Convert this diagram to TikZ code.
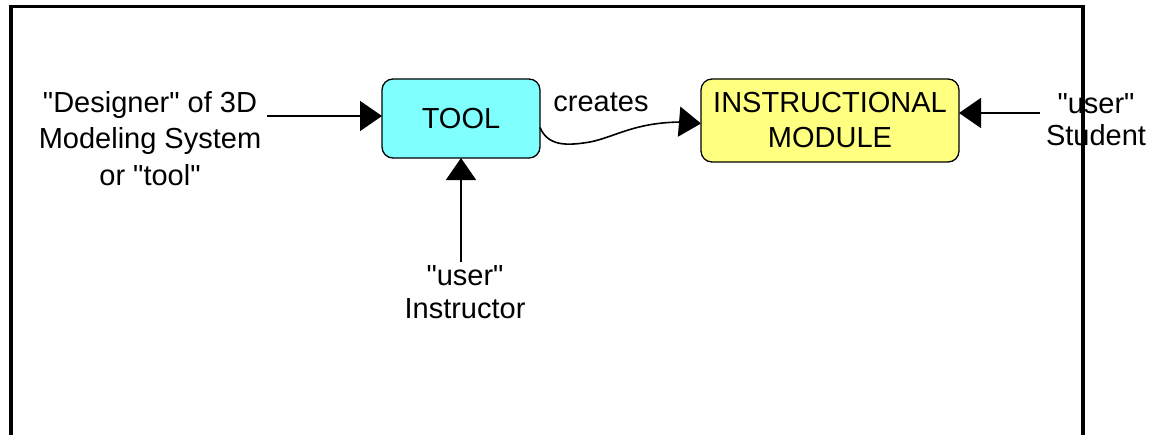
\documentclass[tikz,border=0pt]{standalone}
\usepackage{fontspec}
\setmainfont{Liberation Sans}
\usetikzlibrary{arrows.meta,calc}
\definecolor{toolcyan}{HTML}{80FFFF}
\definecolor{modyellow}{HTML}{FFFF80}
\newcommand{\qq}{\textquotedbl}
\begin{document}
\begin{tikzpicture}[x=1pt,y=-1pt,
  every node/.style={inner sep=0pt, outer sep=0pt, font=\fontsize{29}{36}\selectfont},
  boxnode/.style={draw=black, line width=1.3pt, rounded corners=11pt, align=center},
  lbl/.style={align=center, anchor=base},
  conn/.style={line width=1.6pt, -{Triangle[length=22pt,width=30pt]}},
  frame/.style={line width=3.5pt}
]
\useasboundingbox (0,0) rectangle (1155,434);
% frame
\draw[frame] (11,440) -- (11,6.5) -- (1083,6.5) -- (1083,440);
% boxes
\node[boxnode, fill=toolcyan, minimum width=158pt, minimum height=79pt] (tool) at (461,118.5) {TOOL};
\node[boxnode, fill=modyellow, minimum width=258pt, minimum height=83pt,
      font=\fontsize{29}{35}\selectfont] (mod) at (830,120.5) {INSTRUCTIONAL\\MODULE};
% labels
\node[lbl, font=\fontsize{29}{36.5}\selectfont] (designer) at (150,185) {\qq Designer\qq{} of 3D\\Modeling System\\or \qq tool\qq};
\node[lbl] (creates) at (601,111) {creates};
\node[lbl, font=\fontsize{29}{32}\selectfont] (student) at (1096,145) {\qq user\qq\\Student};
\node[lbl, font=\fontsize{29}{33}\selectfont] (instructor) at (465,318) {\qq user\qq\\Instructor};
% connector anchors
\coordinate (dstart) at (267,116);
\coordinate (sstart) at (1040,113);
\coordinate (istart) at (461,262);
% connectors
\draw[conn] (dstart) -- (dstart -| tool.west);
\draw[conn] (istart) -- (tool.south);
\draw[conn] (sstart) -- (sstart -| mod.east);
\draw[conn] ($(tool.east)+(0,9)$) .. controls (548,146) and (566,146) .. (590,142)
   .. controls (615,137) and (635,122) .. (683,122) -- ($(mod.west)+(0,3)$);
\end{tikzpicture}
\end{document}
